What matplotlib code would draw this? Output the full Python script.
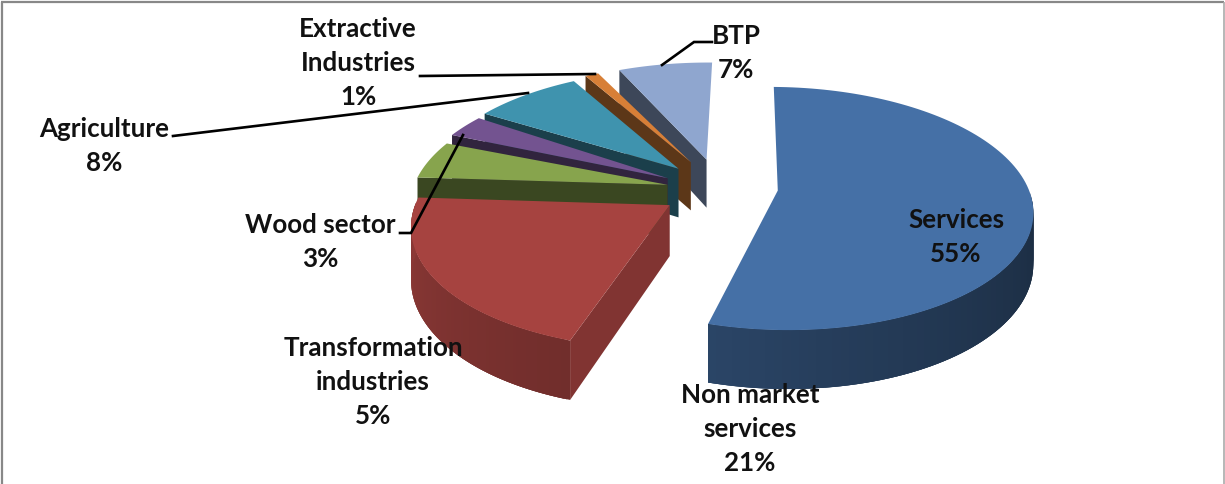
import numpy as np
import matplotlib
matplotlib.use("Agg")
import matplotlib.pyplot as plt
from matplotlib.patches import Polygon

# ---- data -----------------------------------------------------------------
categories = ["Services", "Non market services", "Transformation industries",
              "Wood sector", "Agriculture", "Extractive Industries", "BTP"]
values = [55, 21, 5, 3, 8, 1, 7]
labels = ["Services\n55%", "Non market\nservices\n21%", "Transformation\nindustries\n5%",
          "Wood sector\n3%", "Agriculture\n8%", "Extractive\nIndustries\n1%", "BTP\n7%"]
top_colors = ["#4570A6", "#A64340", "#87A44D", "#735390", "#3F93AE", "#D77F37", "#8FA6CF"]

# ---- projection of the tilted disc to figure pixels -------------------------
CX, CY, RX, RY, PERSP, DEPTH = 717, 190, 255, 120, 0.15, 50
explode = [0.24, 0.22, 0.20, 0.22, 0.25, 0.27, 0.27]
radius = [0.98, 0.98, 1.0, 1.0, 1.0, 1.0, 1.0]
turn_start = [1.0, 0, 0, 1.5, -1, -1, 1]
turn_end = [-2.2, 0, 0, 1.5, -1, -1, 1]
shift_x = [0, 0, 0, 0, 4, 4, 4]
shift_y = [-4, 0, 0, 0, 0, 0, 0]


def project(X, Y, down=0.0, i=0):
    s = 1 / (1 + PERSP * np.asarray(Y))
    return (CX + shift_x[i] + RX * np.asarray(X) * s,
            CY + shift_y[i] - RY * np.asarray(Y) * s + DEPTH * down * s)


def shade(hex_color, f):
    return tuple(c * f for c in matplotlib.colors.to_rgb(hex_color))


fig = plt.figure(figsize=(12.25, 4.84), dpi=100)
ax = fig.add_axes([0, 0, 1, 1])
ax.set_xlim(0, 1225)
ax.set_ylim(484, 0)
ax.axis("off")

fracs = np.array(values, dtype=float) / sum(values)
starts = np.concatenate([[0], np.cumsum(fracs)[:-1]]) * 2 * np.pi
ends = np.cumsum(fracs) * 2 * np.pi


def draw_slice(i, zorder):
    a0, a1 = starts[i], ends[i]
    mid = (a0 + a1) / 2
    ox, oy = explode[i] * np.sin(mid), explode[i] * np.cos(mid)
    th = np.linspace(a0, a1, 120)
    tt = th + np.radians(np.linspace(turn_start[i], turn_end[i], 120))
    X = ox + radius[i] * np.sin(tt)
    Y = oy + radius[i] * np.cos(tt)
    col = top_colors[i]
    # cut face that looks towards the viewer
    if i > 0:
        p = [project(ox, oy, 0, i), project(X[0], Y[0], 0, i),
             project(X[0], Y[0], 1, i), project(ox, oy, 1, i)]
        ax.add_patch(Polygon(p, closed=True, fc=shade(col, 0.78 if i == 1 else 0.43),
                             ec="none", zorder=zorder))
    # outer wall, strip by strip with a gradient (painted with overlap)
    for k in range(len(th) - 1):
        if np.cos(tt[k]) > 0.0 or i > 1:
            continue
        if i == 0:
            u = np.clip((th[k] - np.pi / 2) / (a1 - np.pi / 2), 0, 1)
            f = 0.40 + 0.22 * u ** 1.4
        else:
            u = k / (len(th) - 1)
            f = 0.68 + 0.18 * u
        j = min(k + 3, len(th) - 1)
        p = [project(X[k], Y[k], 0, i), project(X[j], Y[j], 0, i),
             project(X[j], Y[j], 1, i), project(X[k], Y[k], 1, i)]
        ax.add_patch(Polygon(p, closed=True, fc=shade(col, f), ec="none",
                             zorder=zorder + 0.1 + 0.0005 * k))
    # top face
    px, py = project(X, Y, 0, i)
    cx, cy = project(ox, oy, 0, i)
    ax.add_patch(Polygon(np.column_stack([np.r_[cx, px], np.r_[cy, py]]), closed=True,
                         fc=col, ec="none", zorder=zorder + 0.5))


for z, i in enumerate([6, 5, 4, 3, 2, 1, 0]):
    draw_slice(i, 2 + z)

# ---- frame ------------------------------------------------------------------
ax.plot([2, 2], [484, 2], color="#888888", lw=1.6, zorder=1, solid_capstyle="butt")
ax.plot([1, 1224], [2, 2], color="#888888", lw=1.6, zorder=1, solid_capstyle="butt")
ax.plot([1224, 1224], [2, 484], color="#aaaaaa", lw=1.2, zorder=1, solid_capstyle="butt")

# ---- labels and leader lines --------------------------------------------------
font = dict(family=["Lato", "DejaVu Sans"], fontsize=18.7, fontweight="bold", color="#111111",
            ha="center", va="center", linespacing=1.5, zorder=20)
positions = [(956, 237), (750, 429), (373, 382), (320, 242), (104, 146), (358, 63), (736, 53)]
for text, (x, y) in zip(labels, positions):
    ax.text(x, y, text, **font)

leaders = [
    [(173, 136), (528, 93)],
    [(420, 76), (595, 74)],
    [(400, 233), (411, 233), (463, 135)],
    [(662, 65), (694, 42), (712, 42)],
]
for pts in leaders:
    xs, ys = zip(*pts)
    ax.plot(xs, ys, color="black", lw=1.9, zorder=19, solid_joinstyle="miter")

fig.savefig("out.png", dpi=100)
